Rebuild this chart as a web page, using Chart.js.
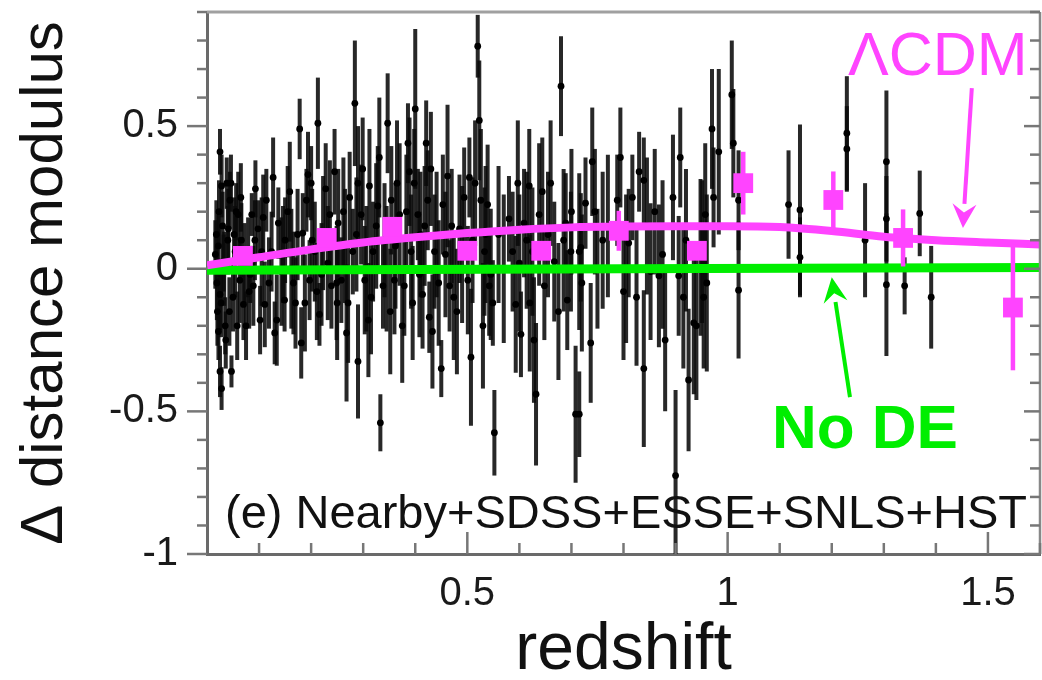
<!DOCTYPE html>
<html><head><meta charset="utf-8">
<script src="https://cdn.jsdelivr.net/npm/chart.js@4/dist/chart.umd.min.js"></script>
<style>html,body{margin:0;padding:0;background:#fff;}#wrap{width:1042px;height:680px;}</style>
</head><body><div id="wrap"><canvas id="c" width="1042" height="680"></canvas></div>
<script>
// ---------- data ----------
// individual supernovae: redshift, Δ distance modulus, 1σ error
const snRedshift = [
  0.025,0.028,0.022,0.025,0.022,0.025,0.028,0.047,0.044,0.041,0.054,0.060,0.063,0.070,0.079,0.086,0.089,0.098,0.105,0.111,0.114,0.124,0.130,0.137,0.143,0.149,0.159,0.162,0.178,0.181,0.184,0.191,0.197,0.207,0.213,0.216,0.223,0.236,0.239,
  0.018,0.020,0.032,0.035,0.038,0.050,0.056,0.066,0.075,0.083,0.093,0.102,
  0.245,0.252,0.258,0.268,0.274,0.284,0.280,0.290,0.296,0.303,0.312,0.319,0.331,0.333,0.338,0.347,0.354,0.360,0.370,0.379,0.386,0.389,0.392,0.400,0.405,0.414,0.421,0.424,0.427,0.437,0.450,0.453,0.462,0.466,
  0.485,0.494,0.504,0.507,0.501,0.520,0.523,0.526,0.533,0.539,0.542,0.549,0.552,0.580,0.587,0.593,0.603,0.609,0.619,0.625,0.632,0.638,0.644,0.648,0.667,0.680,0.689,0.692,0.699,0.708,0.715,
  0.718,0.715,0.727,0.737,0.740,0.750,0.788,0.794,0.810,0.817,0.830,0.839,0.839,0.852,0.868,0.900,0.906,0.909,0.925,0.935,0.948,0.957,
  0.951,0.954,0.960,0.970,0.973,0.983,1.008,1.011,1.021,1.021,1.117,1.139,1.139,1.229,1.229,1.264,1.305,1.305,1.305,1.340,1.369,1.391,
  0.15,0.17,0.2,0.22,0.25,0.265,0.29,0.31,0.325,0.345,0.365,0.375,0.395,0.41,0.43,0.445,0.47,0.48,0.51,0.53,0.56,0.6,0.62,0.655,0.675,0.7,0.76,0.8,0.86,0.88,0.92,
  0.016,0.019,0.023,0.027,0.030,0.033,0.036,0.040,0.043,0.046,0.052,0.058,0.065,0.072,0.081,0.092,0.108,0.119,0.127,0.134,0.146,0.155,0.166,0.174,0.188,0.194,0.202,0.211,0.228,0.232,0.249,0.262,0.271,0.287,0.299,0.306,0.315,0.328,0.341,0.352,0.362,0.383,0.398,0.408,0.418,0.433,0.441,0.458,0.474,0.49,0.515,0.535,0.545,0.57,0.597,0.614,0.628,0.66,0.685,0.72,0.745,0.77,0.805,0.825,0.845,0.875,0.895,0.915,0.94
];
const snDeltaMu = [
  0.41,0.29,0.08,-0.09,-0.22,-0.36,-0.42,-0.36,0.24,0.14,0.06,0.19,-0.04,-0.125,0.04,0.19,-0.06,0.14,0.06,-0.125,0.24,0.06,-0.225,0.16,-0.01,-0.11,0.27,0.0,0.49,-0.26,0.125,0.24,-0.04,0.06,0.51,-0.16,0.125,0.19,-0.06,
  0.12,-0.15,0.02,-0.2,0.3,-0.1,0.2,0.1,-0.2,-0.02,0.28,-0.18,
  0.34,0.16,-0.04,-0.225,0.25,0.58,0.06,-0.325,0.19,-0.04,0.29,0.06,0.39,-0.54,-0.06,0.51,0.24,-0.04,0.19,-0.06,0.44,0.34,0.06,0.56,0.19,-0.09,0.44,0.24,-0.17,0.06,-0.35,0.225,0.325,-0.06,
  0.14,0.25,0.32,-0.31,-0.04,0.78,0.52,0.24,0.06,0.225,-0.06,-0.12,-0.575,0.175,0.06,-0.125,-0.23,0.16,0.29,0.06,-0.44,0.19,0.27,-0.06,0.025,0.64,0.16,-0.11,0.06,-0.51,0.06,
  0.075,-0.51,0.23,-0.26,0.375,0.0,0.24,0.39,0.09,0.25,0.34,0.31,-0.35,-0.01,-0.025,-0.725,-0.025,0.39,-0.39,-0.19,0.04,0.19,
  0.06,-0.1,-0.05,0.49,0.25,0.41,0.61,0.44,0.24,-0.075,0.225,0.206,0.04,0.475,0.42,0.1,0.375,0.175,-0.056,-0.06,0.194,-0.1,
  0.1,-0.12,0.3,-0.02,-0.12,0.08,0.3,-0.18,0.15,0.0,0.3,-0.2,-0.12,0.12,0.35,-0.05,0.15,-0.15,0.1,-0.2,0.12,0.02,-0.12,0.12,-0.15,0.2,0.1,-0.08,0.2,-0.25,0.1,
  0.05,-0.05,0.2,-0.12,0.15,0.0,-0.25,0.1,-0.15,0.3,0.12,-0.2,0.25,0.02,-0.08,0.1,0.18,-0.05,0.32,-0.18,0.05,0.2,-0.05,0.12,-0.12,0.33,0.1,-0.08,0.28,0.02,-0.05,0.2,-0.12,0.12,0.35,0.0,-0.1,0.22,0.1,-0.15,0.08,0.2,0.3,-0.02,0.15,-0.22,0.12,0.05,-0.1,0.05,0.3,0.12,-0.02,0.0,0.3,0.1,-0.25,0.3,0.1,-0.05,0.2,0.15,0.0,-0.1,0.15,0.05,0.25,-0.1,-0.2
];
const snError = [
  0.08,0.11,0.11,0.125,0.1,0.09,0.075,0.056,0.1,0.14,0.16,0.15,0.15,0.125,0.14,0.075,0.14,0.1,0.19,0.15,0.11,0.14,0.11,0.125,0.19,0.11,0.175,0.21,0.106,0.125,0.14,0.11,0.14,0.175,0.16,0.11,0.2,0.19,0.15,
  0.12,0.12,0.1,0.1,0.09,0.12,0.1,0.13,0.12,0.1,0.1,0.12,
  0.15,0.19,0.15,0.24,0.16,0.22,0.15,0.2,0.175,0.19,0.2,0.175,0.21,0.1,0.15,0.175,0.19,0.19,0.25,0.175,0.14,0.19,0.2,0.28,0.16,0.19,0.15,0.175,0.125,0.2,0.1,0.175,0.25,0.16,
  0.19,0.175,0.14,0.24,0.19,0.11,0.21,0.25,0.225,0.21,0.175,0.15,0.15,0.15,0.21,0.24,0.15,0.19,0.2,0.225,0.25,0.25,0.19,0.19,0.21,0.175,0.175,0.175,0.21,0.24,0.275,
  0.19,0.15,0.16,0.21,0.19,0.21,0.16,0.175,0.19,0.15,0.14,0.15,0.275,0.24,0.25,0.3,0.21,0.175,0.25,0.25,0.275,0.25,
  0.25,0.25,0.31,0.21,0.175,0.29,0.19,0.19,0.175,0.24,0.19,0.3,0.14,0.2,0.15,0.2,0.25,0.15,0.25,0.1,0.15,0.18,
  0.15,0.16,0.13,0.18,0.2,0.2,0.2,0.2,0.22,0.22,0.22,0.2,0.2,0.22,0.2,0.22,0.2,0.22,0.22,0.22,0.24,0.24,0.24,0.22,0.24,0.22,0.24,0.24,0.22,0.25,0.25,
  0.12,0.13,0.11,0.12,0.12,0.13,0.1,0.12,0.12,0.1,0.13,0.12,0.12,0.14,0.13,0.14,0.15,0.16,0.14,0.16,0.17,0.16,0.18,0.16,0.17,0.15,0.18,0.17,0.16,0.2,0.2,0.19,0.21,0.2,0.18,0.22,0.2,0.21,0.2,0.22,0.22,0.2,0.19,0.22,0.21,0.2,0.22,0.22,0.22,0.24,0.22,0.24,0.23,0.26,0.22,0.24,0.22,0.22,0.25,0.24,0.22,0.25,0.26,0.24,0.24,0.26,0.22,0.25,0.26
];
// binned averages (magenta squares)
const binRedshift = [0.069, 0.23, 0.356, 0.5, 0.642, 0.791, 0.941, 1.03, 1.203, 1.337, 1.548];
const binDeltaMu  = [0.045, 0.108, 0.147, 0.063, 0.063, 0.133, 0.063, 0.30, 0.241, 0.108, -0.136];
const binError    = [0.02, 0.02, 0.02, 0.02, 0.02, 0.07, 0.02, 0.11, 0.10, 0.10, 0.22];
// model curves
const modelRedshift = [0, 0.1, 0.2, 0.3, 0.4, 0.5, 0.6, 0.7, 0.8, 0.9, 1.0, 1.1, 1.2, 1.3, 1.4, 1.5, 1.6];
const lcdmDeltaMu   = [0.012, 0.04, 0.068, 0.092, 0.11, 0.125, 0.137, 0.145, 0.148, 0.149, 0.149, 0.146, 0.132, 0.112, 0.1, 0.092, 0.085];
const noDeRedshift  = [0, 0.8, 1.6];
const noDeDeltaMu   = [-0.005, 0.0, 0.004];
// tick labels
const yTickLabels = ['-1', '-0.5', '0', '0.5'];
const xTickLabels = ['0.5', '1', '1.5'];

// ---------- styling ----------
const MAGENTA = '#ff44ff';
const GREEN = '#00ee00';
const FONT = '"Liberation Sans", Arial, Helvetica, sans-serif';

const nSN = Math.min(snRedshift.length, snDeltaMu.length, snError.length);
const snData = [], snErr = [];
for (let i = 0; i < nSN; i++) { snData.push({x: snRedshift[i], y: snDeltaMu[i]}); snErr.push(snError[i]); }
const binData = binRedshift.map((z, i) => ({x: z, y: binDeltaMu[i]}));
const lcdmData = modelRedshift.map((z, i) => ({x: z, y: lcdmDeltaMu[i]}));
const noDeData = noDeRedshift.map((z, i) => ({x: z, y: noDeDeltaMu[i]}));

const fmt = v => String(Math.round(v * 10) / 10);

const errorBars = {
  id: 'errorBars',
  beforeDatasetDraw(chart, args) {
    const ds = chart.data.datasets[args.index];
    if (!ds.errors) return;
    const {ctx, chartArea: a} = chart;
    const ys = chart.scales.y;
    ctx.save();
    ctx.beginPath(); ctx.rect(a.left, a.top, a.right - a.left, a.bottom - a.top); ctx.clip();
    ctx.strokeStyle = ds.errorColor; ctx.lineWidth = ds.errorWidth; ctx.lineCap = 'butt';
    args.meta.data.forEach((pt, i) => {
      const d = ds.data[i], e = ds.errors[i];
      ctx.beginPath();
      ctx.moveTo(pt.x, ys.getPixelForValue(d.y - e));
      ctx.lineTo(pt.x, ys.getPixelForValue(d.y + e));
      ctx.stroke();
    });
    ctx.restore();
  }
};

function arrow(ctx, x1, y1, x2, y2, color, lw, headLen, headHalf) {
  const ang = Math.atan2(y2 - y1, x2 - x1);
  const bx = x2 - headLen * Math.cos(ang), by = y2 - headLen * Math.sin(ang);
  ctx.save();
  ctx.strokeStyle = color; ctx.fillStyle = color; ctx.lineWidth = lw;
  ctx.beginPath(); ctx.moveTo(x1, y1); ctx.lineTo(bx, by); ctx.stroke();
  ctx.beginPath();
  ctx.moveTo(x2, y2);
  ctx.lineTo(bx + headHalf * Math.sin(ang), by - headHalf * Math.cos(ang));
  ctx.lineTo(bx + 0.35 * headLen * Math.cos(ang), by + 0.35 * headLen * Math.sin(ang));
  ctx.lineTo(bx - headHalf * Math.sin(ang), by + headHalf * Math.cos(ang));
  ctx.closePath(); ctx.fill();
  ctx.restore();
}

const decorations = {
  id: 'decorations',
  afterDraw(chart) {
    const {ctx, chartArea: a, scales: {x, y}} = chart;
    ctx.save();
    // top & right frame
    ctx.strokeStyle = '#a0a0a0'; ctx.lineWidth = 3;
    ctx.beginPath(); ctx.moveTo(a.left, a.top); ctx.lineTo(a.right, a.top); ctx.stroke();
    ctx.strokeStyle = '#888'; ctx.lineWidth = 2.5;
    ctx.beginPath(); ctx.moveTo(a.right, a.top); ctx.lineTo(a.right, a.bottom); ctx.stroke();
    // tick marks (major where a label is shown)
    ctx.strokeStyle = '#777'; ctx.lineWidth = 2.5;
    y.ticks.forEach(t => {
      const py = y.getPixelForValue(t.value);
      const major = t.label !== '';
      ctx.beginPath(); ctx.moveTo(a.left - (major ? 20 : 10), py); ctx.lineTo(a.left, py); ctx.stroke();
      ctx.beginPath(); ctx.moveTo(a.right, py); ctx.lineTo(a.right - (major ? 16 : 10), py); ctx.stroke();
    });
    x.ticks.forEach(t => {
      if (t.value <= 0.001) return;
      const px = x.getPixelForValue(t.value);
      const major = t.label !== '';
      ctx.beginPath(); ctx.moveTo(px, a.bottom); ctx.lineTo(px, a.bottom - (major ? 22 : 11)); ctx.stroke();
    });
    // panel label
    ctx.fillStyle = '#111'; ctx.textAlign = 'left'; ctx.textBaseline = 'alphabetic';
    ctx.font = '47px ' + FONT;
    ctx.fillText('(e) Nearby+SDSS+ESSE+SNLS+HST', a.left + 18, a.bottom - 26);
    // model labels
    ctx.fillStyle = MAGENTA; ctx.font = '61px ' + FONT;
    ctx.fillText('\u039BCDM', x.getPixelForValue(1.231), y.getPixelForValue(0.678));
    ctx.fillStyle = GREEN; ctx.font = 'bold 62px ' + FONT;
    ctx.fillText('No DE', x.getPixelForValue(1.085), y.getPixelForValue(-0.63));
    ctx.restore();
    arrow(ctx, x.getPixelForValue(1.469), y.getPixelForValue(0.633), x.getPixelForValue(1.452), y.getPixelForValue(0.143), MAGENTA, 4, 24, 12);
    arrow(ctx, x.getPixelForValue(1.235), y.getPixelForValue(-0.45), x.getPixelForValue(1.2), y.getPixelForValue(-0.03), GREEN, 4, 25, 12);
  }
};

new Chart(document.getElementById('c'), {
  type: 'scatter',
  data: {
    datasets: [
      { type: 'scatter', label: 'binned', data: binData, errors: binError, errorColor: MAGENTA, errorWidth: 4.5,
        pointStyle: 'rect', pointRadius: 14, borderWidth: 0, backgroundColor: MAGENTA, order: 0 },
      { type: 'line', label: 'LCDM', data: lcdmData, borderColor: MAGENTA, borderWidth: 8, pointRadius: 0,
        fill: false, cubicInterpolationMode: 'monotone', order: 1 },
      { type: 'line', label: 'No DE', data: noDeData, borderColor: GREEN, borderWidth: 9, pointRadius: 0,
        fill: false, order: 2 },
      { type: 'scatter', label: 'SNe', data: snData, errors: snErr, errorColor: 'rgba(10,10,10,0.88)', errorWidth: 4,
        pointStyle: 'circle', pointRadius: 3.4, borderWidth: 0, backgroundColor: '#000', order: 3 }
    ]
  },
  options: {
    responsive: false, animation: false, devicePixelRatio: 1, events: [],
    layout: { autoPadding: false, padding: { top: 12, right: 2, left: 0, bottom: 0 } },
    plugins: { legend: { display: false }, tooltip: { enabled: false } },
    scales: {
      x: {
        type: 'linear', min: 0, max: 1.6,
        grid: { display: false, drawTicks: false },
        border: { display: true, color: '#6a6a6a', width: 3 },
        ticks: { stepSize: 0.1, autoSkip: false, maxRotation: 0, padding: 16, color: '#1a1a1a',
          font: { family: FONT, size: 40 },
          callback: v => { const s = fmt(v); return xTickLabels.includes(s) ? s : ''; } },
        title: { display: true, text: 'redshift', color: '#111',
          font: { family: FONT, size: 66, lineHeight: 0.9 }, padding: { top: 0, bottom: 0 } },
        afterFit: s => { s.height = 126; s.paddingLeft = 0; s.paddingRight = 0; }
      },
      y: {
        type: 'linear', min: -1, max: 0.9,
        grid: { display: false, drawTicks: false },
        border: { display: true, color: '#6a6a6a', width: 3 },
        ticks: { stepSize: 0.1, autoSkip: false, padding: 29, color: '#1a1a1a',
          font: { family: FONT, size: 40 },
          callback: v => { const s = fmt(v); return yTickLabels.includes(s) ? s : ''; } },
        title: { display: true, text: '\u0394 distance modulus', color: '#111',
          font: { family: FONT, size: 60, lineHeight: 1.2 }, padding: { top: 9, bottom: 0 } },
        afterFit: s => { s.width = 207; s.paddingTop = 0; s.paddingBottom = 0; }
      }
    }
  },
  plugins: [errorBars, decorations]
});
</script>
</body></html>
